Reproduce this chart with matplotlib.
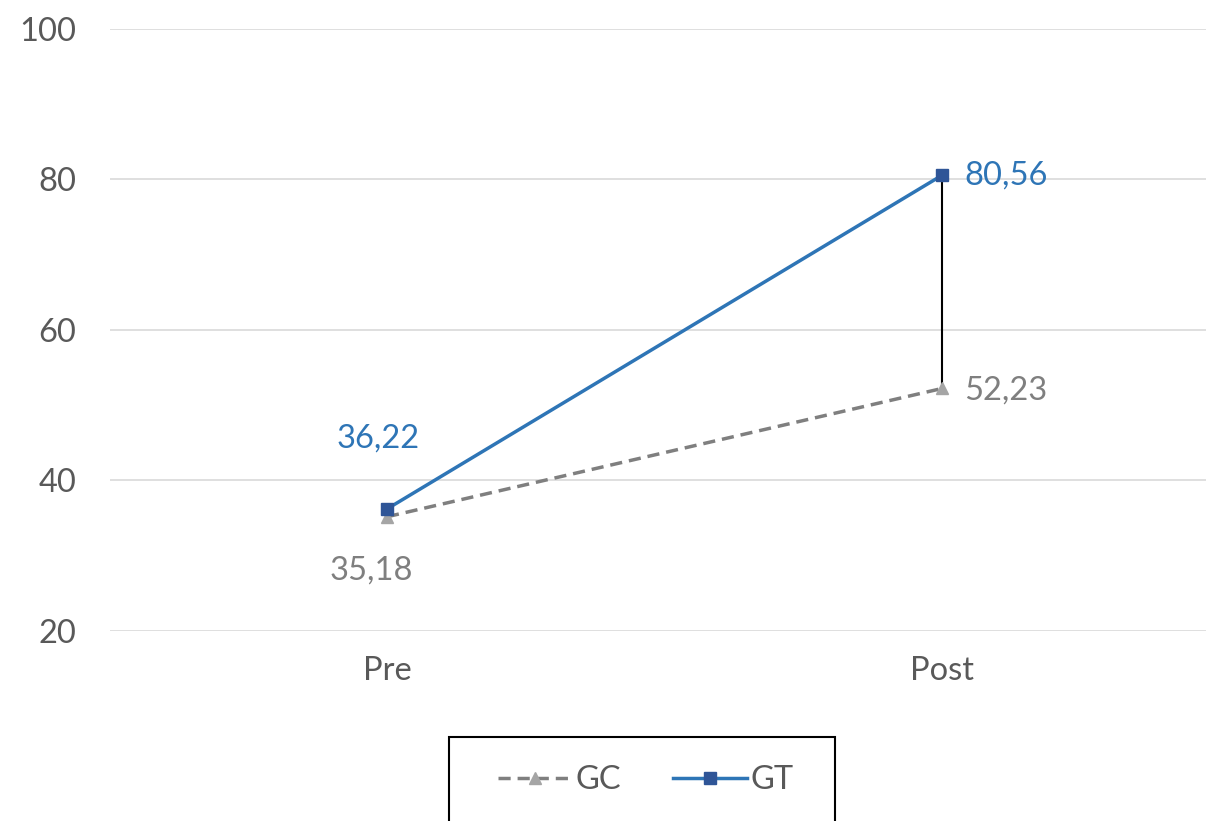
import matplotlib
matplotlib.use("Agg")
import matplotlib.pyplot as plt
from matplotlib.lines import Line2D
from matplotlib.patches import Rectangle

categories = ["Pre", "Post"]
gc_values = [35.18, 52.23]
gt_values = [36.22, 80.56]
gc_labels = ["35,18", "52,23"]
gt_labels = ["36,22", "80,56"]
yticks = [20, 40, 60, 80, 100]

plt.rcParams['font.family'] = ['Lato', 'DejaVu Sans']

W, H = 1206, 821
fig = plt.figure(figsize=(W/100, H/100), dpi=100)
left = 109.5 / W
right = 1219.5 / W
bottom = 1 - 631 / H
top = 1 - 29 / H
ax = fig.add_axes([left, bottom, right - left, top - bottom])

x = list(range(len(categories)))
ax.set_xlim(-0.5, len(categories) - 0.5)
ax.set_ylim(20, 100)

for yv in yticks:
    ax.axhline(yv, color="#D9D9D9", lw=1.2, zorder=0)

# high-low lines
for xi, a, b in zip(x, gc_values, gt_values):
    ax.plot([xi, xi], [a, b], color="black", lw=1.5, zorder=2)

ax.plot(x, gc_values, color="#7F7F7F", lw=2.5, ls=(0, (3.5, 2)), marker="^",
        markersize=8, markerfacecolor="#A5A5A5", markeredgecolor="#A5A5A5", zorder=3)
ax.plot(x, gt_values, color="#2E75B6", lw=2.5, marker="s",
        markersize=8, markerfacecolor="#2F5597", markeredgecolor="#2F5597", zorder=4)

fs = 23.5
# labels
ax.annotate(gt_labels[0], (x[0], gt_values[0]), xytext=(-9, 70), textcoords="offset pixels",
            ha="center", va="center", color="#2E75B6", fontsize=fs)
ax.annotate(gc_labels[0], (x[0], gc_values[0]), xytext=(-16, -54), textcoords="offset pixels",
            ha="center", va="center", color="#7F7F7F", fontsize=fs)
ax.annotate(gt_labels[1], (x[1], gt_values[1]), xytext=(22, 0), textcoords="offset pixels",
            ha="left", va="center", color="#2E75B6", fontsize=fs)
ax.annotate(gc_labels[1], (x[1], gc_values[1]), xytext=(22, -2), textcoords="offset pixels",
            ha="left", va="center", color="#7F7F7F", fontsize=fs)

ax.set_xticks(x)
ax.set_xticklabels(categories)
ax.set_yticks(yticks)
ax.tick_params(axis="both", length=0, labelsize=fs, colors="#595959", pad=18)
ax.tick_params(axis="y", pad=24)
for s in ax.spines.values():
    s.set_visible(False)

# legend frame
fig.patches.append(Rectangle((449 / W, -0.05), (835 - 449) / W, 1 - 737 / H + 0.05,
                             transform=fig.transFigure, fill=False, edgecolor="black",
                             lw=1.5, zorder=5))

handles = [
    Line2D([], [], color="#7F7F7F", lw=2.5, ls=(0, (3.5, 2)), marker="^", markersize=8,
           markerfacecolor="#A5A5A5", markeredgecolor="#A5A5A5"),
    Line2D([], [], color="#2E75B6", lw=2.5, marker="s", markersize=8,
           markerfacecolor="#2F5597", markeredgecolor="#2F5597"),
]
leg = fig.legend(handles, ["GC", "GT"], loc="center",
                 bbox_to_anchor=(646 / W, 1 - 780 / H), ncol=2, frameon=False,
                 fontsize=fs, handlelength=2.25, columnspacing=1.6, handletextpad=0.12,
                 borderpad=0, borderaxespad=0, labelcolor="#595959")

fig.savefig("out.png", dpi=100)
